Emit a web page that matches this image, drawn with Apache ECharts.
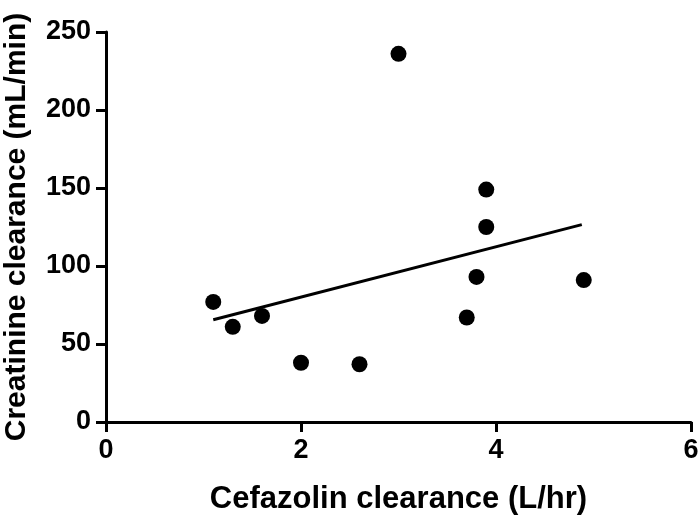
<!DOCTYPE html>
<html>
<head>
<meta charset="utf-8">
<script src="https://cdn.jsdelivr.net/npm/echarts@6/dist/echarts.min.js"></script>
<style>
  html, body { margin: 0; padding: 0; background: #fff; }
  #chart { width: 700px; height: 515px; }
</style>
</head>
<body>
<div id="chart"></div>
<script>
// cefazolin clearance (L/hr) vs creatinine clearance (mL/min)
const cefazolin = [1.1, 1.3, 1.6, 2.0, 2.6, 3.0, 3.7, 3.8, 3.9, 3.9, 4.9];
const creatinine = [77, 61, 68, 38, 37, 236, 67, 93, 149, 125, 91];
// regression line end points
const fitX = [1.1, 4.88];
const fitY = [65.5, 126.5];

const xTicks = [0, 2, 4, 6];
const yTicks = [0, 50, 100, 150, 200, 250];

const font = '"Liberation Sans", Arial, sans-serif';

const chart = echarts.init(document.getElementById('chart'));

const axisCommon = {
  type: 'value',
  nameLocation: 'middle',
  nameTextStyle: { fontFamily: font, fontWeight: 'bold', fontSize: 31, color: '#000' },
  axisLine: { show: true, onZero: false, lineStyle: { color: '#000', width: 3 } },
  axisTick: { show: true, inside: false, length: 10, lineStyle: { color: '#000', width: 3 } },
  axisLabel: { fontFamily: font, fontWeight: 'bold', fontSize: 27, color: '#000' },
  splitLine: { show: false }
};

chart.setOption({
  animation: false,
  grid: { left: 106, top: 32, width: 585, height: 390, outerBoundsMode: 'none', containLabel: false },
  xAxis: Object.assign({}, axisCommon, {
    name: 'Cefazolin clearance (L/hr)',
    nameGap: 62,
    min: xTicks[0],
    max: xTicks[xTicks.length - 1],
    interval: 2,
    axisLabel: Object.assign({}, axisCommon.axisLabel, { margin: 15 })
  }),
  yAxis: Object.assign({}, axisCommon, {
    name: 'Creatinine clearance (mL/min)',
    nameGap: 74,
    nameTextStyle: Object.assign({}, axisCommon.nameTextStyle, { fontSize: 30 }),
    min: yTicks[0],
    max: yTicks[yTicks.length - 1],
    interval: 50,
    axisLabel: Object.assign({}, axisCommon.axisLabel, { margin: 15 })
  }),
  series: [
    {
      type: 'scatter',
      symbol: 'circle',
      symbolSize: 16,
      itemStyle: { color: '#000', opacity: 1 },
      data: cefazolin.map((x, i) => [x, creatinine[i]])
    },
    {
      type: 'line',
      symbol: 'none',
      lineStyle: { color: '#000', width: 3 },
      data: fitX.map((x, i) => [x, fitY[i]])
    }
  ]
});
</script>
</body>
</html>
